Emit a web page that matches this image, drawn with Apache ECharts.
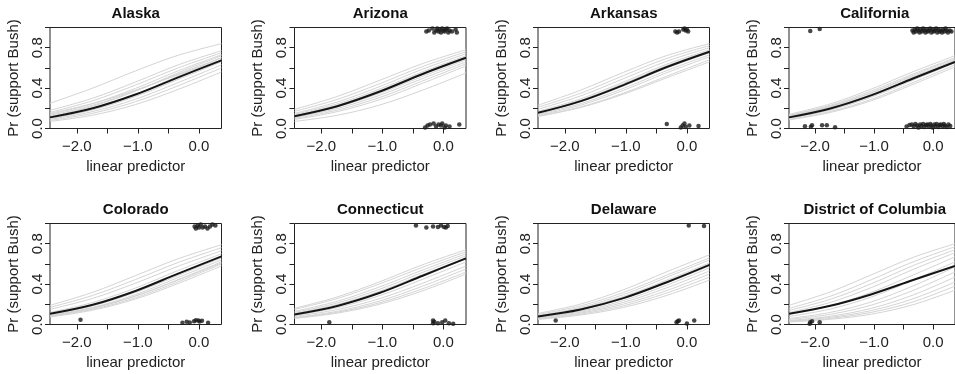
<!DOCTYPE html>
<html>
<head>
<meta charset="utf-8">
<script src="https://cdn.jsdelivr.net/npm/echarts@6/dist/echarts.min.js"></script>
<style>
html,body{margin:0;padding:0;background:#fff;}
#chart{width:955px;height:374px;}
</style>
</head>
<body>
<div id="chart"></div>
<script>
const xs = [-2.44, -1.74, -1.04, -0.34, 0.37];

const states = ['Alaska', 'Arizona', 'Arkansas', 'California', 'Colorado', 'Connecticut', 'Delaware', 'District of Columbia'];

const xTickValues = [-2, -1.5, -1, -0.5, 0];
const xLabelValues = [-2, -1, 0];
const yTickValues = [0, 0.2, 0.4, 0.6, 0.8, 1.0];
const yLabelValues = [0, 0.4, 0.8];

// ---- Alaska ----
const alaskaMean = [0.11, 0.20, 0.336, 0.506, 0.675];
const alaskaDraws = [
  [0.25, 0.40, 0.57, 0.725, 0.84],
  [0.18, 0.30, 0.46, 0.63, 0.77],
  [0.16, 0.275, 0.43, 0.60, 0.75],
  [0.14, 0.246, 0.397, 0.571, 0.73],
  [0.13, 0.23, 0.373, 0.54, 0.70],
  [0.12, 0.22, 0.37, 0.552, 0.72],
  [0.10, 0.185, 0.317, 0.486, 0.66],
  [0.09, 0.168, 0.29, 0.455, 0.63],
  [0.08, 0.151, 0.265, 0.423, 0.60],
  [0.07, 0.132, 0.237, 0.387, 0.56],
  [0.10, 0.19, 0.34, 0.52, 0.70],
  [0.15, 0.248, 0.38, 0.532, 0.68]
];
const alaskaPoints = [];

// ---- Arizona ----
const arizonaMean = [0.122, 0.221, 0.366, 0.54, 0.70];
const arizonaDraws = [
  [0.19, 0.317, 0.478, 0.643, 0.78],
  [0.17, 0.288, 0.445, 0.614, 0.76],
  [0.15, 0.262, 0.416, 0.588, 0.74],
  [0.14, 0.244, 0.392, 0.562, 0.72],
  [0.13, 0.231, 0.378, 0.55, 0.71],
  [0.12, 0.213, 0.35, 0.516, 0.68],
  [0.11, 0.198, 0.33, 0.495, 0.66],
  [0.10, 0.182, 0.308, 0.471, 0.64],
  [0.09, 0.167, 0.287, 0.448, 0.62],
  [0.07, 0.131, 0.233, 0.38, 0.55]
];
const arizonaPoints = [
  [-0.28, 0.96], [-0.24, 0.97], [-0.18, 0.99], [-0.15, 0.95], [-0.12, 0.97], [-0.10, 0.99],
  [-0.08, 0.96], [-0.06, 0.98], [-0.04, 0.95], [-0.02, 0.99], [0.00, 0.97], [0.02, 0.96],
  [0.04, 0.98], [0.06, 0.99], [0.08, 0.95], [0.10, 0.97], [0.14, 0.96], [0.20, 0.98], [0.22, 0.95],
  [-0.30, 0.01], [-0.26, 0.03], [-0.22, 0.04], [-0.16, 0.05], [-0.12, 0.02], [-0.08, 0.04],
  [-0.04, 0.03], [-0.02, 0.05], [0.02, 0.01], [0.04, 0.03], [0.10, 0.02], [0.26, 0.04]
];

// ---- Arkansas ----
const arkansasMean = [0.155, 0.271, 0.43, 0.606, 0.76];
const arkansasDraws = [
  [0.23, 0.38, 0.556, 0.72, 0.84],
  [0.21, 0.35, 0.524, 0.692, 0.82],
  [0.19, 0.323, 0.493, 0.664, 0.80],
  [0.17, 0.294, 0.46, 0.635, 0.78],
  [0.16, 0.28, 0.445, 0.62, 0.77],
  [0.15, 0.265, 0.42, 0.596, 0.75],
  [0.14, 0.246, 0.397, 0.571, 0.73],
  [0.13, 0.231, 0.378, 0.55, 0.71],
  [0.12, 0.213, 0.35, 0.516, 0.68],
  [0.12, 0.209, 0.34, 0.50, 0.66]
];
const arkansasPoints = [
  [-0.19, 0.96], [-0.16, 0.95], [-0.13, 0.96], [-0.06, 0.98], [-0.04, 0.99], [-0.02, 0.97],
  [0.00, 0.98], [0.02, 0.96],
  [-0.33, 0.045], [-0.10, 0.01], [-0.07, 0.03], [-0.04, 0.05], [-0.02, 0.015], [0.04, 0.03], [0.19, 0.025]
];

// ---- California ----
const californiaMean = [0.11, 0.198, 0.33, 0.495, 0.66];
const californiaDraws = [
  [0.14, 0.244, 0.392, 0.562, 0.72],
  [0.13, 0.23, 0.373, 0.54, 0.70],
  [0.12, 0.216, 0.357, 0.527, 0.69],
  [0.11, 0.199, 0.334, 0.503, 0.67],
  [0.10, 0.183, 0.312, 0.479, 0.65],
  [0.09, 0.168, 0.29, 0.455, 0.63],
  [0.085, 0.159, 0.277, 0.437, 0.61],
  [0.12, 0.209, 0.34, 0.50, 0.66],
  [0.10, 0.188, 0.326, 0.503, 0.68],
  [0.13, 0.223, 0.355, 0.515, 0.67]
];
const californiaPoints = [
  [-2.08, 0.965], [-1.92, 0.985],
  [-0.35, 0.97], [-0.33, 0.95], [-0.31, 0.98], [-0.29, 0.96], [-0.27, 0.99], [-0.25, 0.97],
  [-0.23, 0.95], [-0.21, 0.98], [-0.19, 0.96], [-0.17, 0.99], [-0.15, 0.97], [-0.13, 0.95],
  [-0.11, 0.98], [-0.09, 0.96], [-0.07, 0.97], [-0.05, 0.99], [-0.03, 0.95], [-0.01, 0.98],
  [0.01, 0.96], [0.03, 0.97], [0.05, 0.99], [0.07, 0.95], [0.09, 0.98], [0.11, 0.96],
  [0.13, 0.97], [0.15, 0.95], [0.17, 0.98], [0.19, 0.96], [0.21, 0.99], [0.23, 0.97],
  [0.25, 0.95], [0.28, 0.97], [0.31, 0.96],
  [-2.17, 0.023], [-2.07, 0.017], [-2.05, 0.033], [-1.88, 0.033], [-1.80, 0.033], [-1.66, 0.013],
  [-0.45, 0.02], [-0.40, 0.035], [-0.36, 0.04], [-0.33, 0.02], [-0.30, 0.045], [-0.27, 0.03],
  [-0.25, 0.01], [-0.22, 0.04], [-0.20, 0.025], [-0.17, 0.045], [-0.15, 0.015], [-0.12, 0.035],
  [-0.10, 0.04], [-0.08, 0.02], [-0.05, 0.045], [-0.03, 0.03], [-0.01, 0.01], [0.02, 0.04],
  [0.04, 0.025], [0.06, 0.045], [0.09, 0.015], [0.11, 0.035], [0.13, 0.04], [0.16, 0.02],
  [0.18, 0.045], [0.20, 0.03], [0.23, 0.015], [0.26, 0.04], [0.29, 0.025]
];

// ---- Colorado ----
const coloradoMean = [0.106, 0.195, 0.332, 0.504, 0.674];
const coloradoDraws = [
  [0.19, 0.319, 0.484, 0.651, 0.79],
  [0.17, 0.288, 0.445, 0.614, 0.76],
  [0.15, 0.259, 0.409, 0.577, 0.73],
  [0.12, 0.218, 0.361, 0.535, 0.70],
  [0.10, 0.185, 0.317, 0.486, 0.66],
  [0.09, 0.169, 0.296, 0.465, 0.64],
  [0.085, 0.16, 0.281, 0.444, 0.62],
  [0.08, 0.151, 0.265, 0.423, 0.60],
  [0.075, 0.142, 0.252, 0.406, 0.58],
  [0.09, 0.165, 0.283, 0.44, 0.61]
];
const coloradoPoints = [
  [-0.07, 0.97], [-0.05, 0.95], [-0.02, 0.98], [0.00, 0.96], [0.03, 0.99], [0.06, 0.96],
  [0.10, 0.97], [0.14, 0.95], [0.18, 0.97], [0.22, 0.99], [0.27, 0.98],
  [-1.94, 0.046], [-0.27, 0.017], [-0.20, 0.026], [-0.15, 0.02], [-0.08, 0.033], [-0.05, 0.043],
  [-0.01, 0.04], [0.01, 0.03], [0.05, 0.036], [0.15, 0.017]
];

// ---- Connecticut ----
const connecticutMean = [0.10, 0.184, 0.314, 0.483, 0.655];
const connecticutDraws = [
  [0.16, 0.273, 0.424, 0.592, 0.74],
  [0.15, 0.257, 0.404, 0.567, 0.72],
  [0.13, 0.23, 0.373, 0.54, 0.70],
  [0.12, 0.213, 0.35, 0.516, 0.68],
  [0.11, 0.198, 0.33, 0.495, 0.66],
  [0.09, 0.167, 0.287, 0.448, 0.62],
  [0.08, 0.148, 0.257, 0.409, 0.58],
  [0.07, 0.131, 0.233, 0.38, 0.55],
  [0.065, 0.121, 0.216, 0.354, 0.52],
  [0.06, 0.113, 0.202, 0.334, 0.50]
];
const connecticutPoints = [
  [-0.45, 0.98], [-0.28, 0.96], [-0.17, 0.97], [-0.09, 0.965], [-0.04, 0.98], [0.01, 0.965],
  [0.04, 0.96], [0.07, 0.975],
  [-1.87, 0.023], [-0.17, 0.04], [-0.17, 0.013], [-0.15, 0.026], [-0.09, 0.013], [-0.02, 0.023],
  [0.03, 0.04], [0.09, 0.013], [0.16, 0.007]
];

// ---- Delaware ----
const delawareMean = [0.08, 0.149, 0.261, 0.416, 0.59];
const delawareDraws = [
  [0.11, 0.203, 0.344, 0.52, 0.69],
  [0.10, 0.185, 0.317, 0.486, 0.66],
  [0.09, 0.169, 0.296, 0.465, 0.64],
  [0.085, 0.159, 0.277, 0.437, 0.61],
  [0.08, 0.148, 0.257, 0.409, 0.58],
  [0.07, 0.132, 0.237, 0.387, 0.56],
  [0.065, 0.122, 0.219, 0.361, 0.53],
  [0.06, 0.113, 0.202, 0.334, 0.50],
  [0.055, 0.103, 0.185, 0.31, 0.47],
  [0.05, 0.094, 0.169, 0.286, 0.44]
];
const delawarePoints = [
  [0.03, 0.98], [0.28, 0.975],
  [-2.15, 0.04], [-0.17, 0.023], [-0.15, 0.033], [-0.13, 0.04], [0.00, 0.01], [0.12, 0.04]
];

// ---- District of Columbia ----
const dcMean = [0.106, 0.185, 0.30, 0.44, 0.58];
const dcDraws = [
  [0.19, 0.323, 0.493, 0.664, 0.80],
  [0.16, 0.28, 0.445, 0.62, 0.77],
  [0.14, 0.25, 0.405, 0.583, 0.74],
  [0.12, 0.219, 0.367, 0.545, 0.71],
  [0.10, 0.188, 0.32, 0.49, 0.67],
  [0.08, 0.153, 0.274, 0.439, 0.62],
  [0.06, 0.12, 0.225, 0.382, 0.57],
  [0.05, 0.101, 0.193, 0.337, 0.52],
  [0.04, 0.082, 0.161, 0.292, 0.47],
  [0.035, 0.071, 0.139, 0.255, 0.42],
  [0.03, 0.061, 0.121, 0.224, 0.38],
  [0.025, 0.052, 0.103, 0.196, 0.34]
];
const dcPoints = [
  [-2.09, 0.007], [-2.08, 0.023], [-2.05, 0.033], [-1.92, 0.023]
];

const panelMeans = [alaskaMean, arizonaMean, arkansasMean, californiaMean, coloradoMean, connecticutMean, delawareMean, dcMean];
const panelDraws = [alaskaDraws, arizonaDraws, arkansasDraws, californiaDraws, coloradoDraws, connecticutDraws, delawareDraws, dcDraws];
const panelPoints = [alaskaPoints, arizonaPoints, arkansasPoints, californiaPoints, coloradoPoints, connecticutPoints, delawarePoints, dcPoints];

// layout
const colLefts = [50, 294.5, 538, 789];
const rowTops = [27.5, 223.5];
const gridW = 171.5, gridH = 101;
const FONT = '"Liberation Sans", Arial, Helvetica, sans-serif';
const fmtNum = v => (v < 0 ? '\u2212' : '') + Math.abs(v).toFixed(1);

const grids = [], xAxes = [], yAxes = [], titles = [], series = [];
states.forEach((name, i) => {
  const c = i % 4, r = Math.floor(i / 4);
  grids.push({left: colLefts[c], top: rowTops[r], width: gridW, height: gridH,
    show: true, borderColor: '#222', borderWidth: 1, backgroundColor: 'transparent'});
  titles.push({text: name, left: colLefts[c] + gridW / 2, top: rowTops[r] - 21.5, textAlign: 'center', padding: 0,
    textStyle: {fontFamily: FONT, fontSize: 15, fontWeight: 'bold', color: '#111', lineHeight: 15}});
  xAxes.push({gridIndex: i, type: 'value', min: -2.44, max: 0.37, position: 'bottom',
    name: 'linear predictor', nameLocation: 'middle', nameGap: 31,
    nameTextStyle: {fontFamily: FONT, fontSize: 15, color: '#222'},
    axisLine: {show: false, onZero: false}, splitLine: {show: false},
    axisTick: {show: true, length: 5, inside: false, lineStyle: {color: '#222'}, customValues: xTickValues},
    axisLabel: {fontFamily: FONT, fontSize: 15, color: '#222', margin: 11, customValues: xLabelValues, formatter: fmtNum}
  });
  yAxes.push({gridIndex: i, type: 'value', min: 0, max: 1, position: 'left',
    name: 'Pr (support Bush)', nameLocation: 'middle', nameGap: 29, nameRotate: 90,
    nameTextStyle: {fontFamily: FONT, fontSize: 15, color: '#222'},
    axisLine: {show: false, onZero: false}, splitLine: {show: false},
    axisTick: {show: true, length: 5, inside: false, lineStyle: {color: '#222'}, customValues: yTickValues},
    axisLabel: {fontFamily: FONT, fontSize: 15, color: '#222', margin: 5, rotate: 90, customValues: yLabelValues, formatter: fmtNum}
  });
  panelDraws[i].forEach(d => {
    series.push({type: 'line', xAxisIndex: i, yAxisIndex: i, data: xs.map((x, k) => [x, d[k]]),
      smooth: 0.35, symbol: 'none', z: 2, silent: true,
      lineStyle: {color: '#d4d4d4', width: 1}});
  });
  series.push({type: 'line', xAxisIndex: i, yAxisIndex: i, data: xs.map((x, k) => [x, panelMeans[i][k]]),
    smooth: 0.35, symbol: 'none', z: 3, silent: true,
    lineStyle: {color: '#151515', width: 2}});
  series.push({type: 'scatter', xAxisIndex: i, yAxisIndex: i, data: panelPoints[i],
    symbol: 'circle', symbolSize: 4.5, z: 4, silent: true,
    itemStyle: {color: '#1a1a1a'}});
});

const chart = echarts.init(document.getElementById('chart'), null, {renderer: 'canvas'});
chart.setOption({
  animation: false,
  backgroundColor: '#ffffff',
  title: titles,
  grid: grids,
  xAxis: xAxes,
  yAxis: yAxes,
  series: series
});
</script>
</body>
</html>
